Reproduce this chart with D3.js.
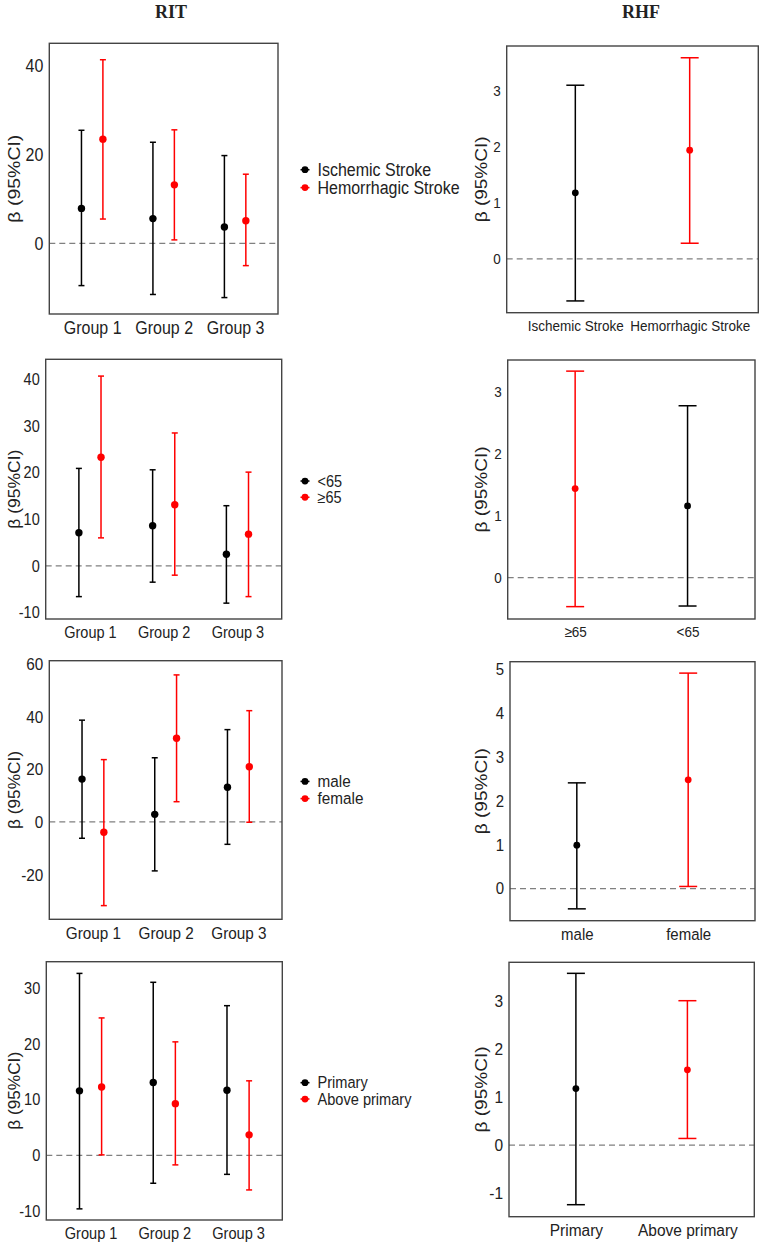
<!DOCTYPE html>
<html>
<head>
<meta charset="utf-8">
<script src="https://cdn.jsdelivr.net/npm/d3@7"></script>
<style>
  body { margin: 0; background: #fff; }
  text { font-family: "Liberation Sans", Arial, sans-serif; fill: #222; }
  /* the source image is a little taller than wide, so stretch flat text to match */
  text:not(.ytitle) { transform-box: fill-box; transform-origin: center; transform: scaleY(1.1); }
</style>
</head>
<body>
<svg id="chart" width="767" height="1246"></svg>
<script>
// every estimate row is [beta, lower 95% CI, upper 95% CI]
const groups = ['Group 1', 'Group 2', 'Group 3'];

// RIT, by stroke type
const ritStrokeLegend = ['Ischemic Stroke', 'Hemorrhagic Stroke'];
const ritStrokeIschemic = [[7.9, -9.5, 25.5], [5.6, -11.5, 22.8], [3.7, -12.2, 19.8]];
const ritStrokeHemorrhagic = [[23.5, 5.5, 41.4], [13.2, 0.8, 25.6], [5.1, -5.0, 15.6]];
const ritStrokeTicks = [0, 20, 40];
const ritStrokeRange = [-15.9, 45.1];

// RIT, by age
const ritAgeLegend = ['<65', '≥65'];
const ritAgeUnder65 = [[7.1, -6.6, 20.9], [8.6, -3.5, 20.6], [2.5, -8.0, 12.9]];
const ritAge65Plus = [[23.3, 6.0, 40.7], [13.1, -2.0, 28.5], [6.8, -6.6, 20.1]];
const ritAgeTicks = [-10, 0, 10, 20, 30, 40];
const ritAgeRange = [-11.4, 44.3];

// RIT, by sex
const ritSexLegend = ['male', 'female'];
const ritSexMale = [[16.3, -6.2, 38.7], [2.9, -18.6, 24.4], [13.2, -8.5, 35.1]];
const ritSexFemale = [[-3.9, -31.8, 23.7], [31.8, 7.7, 55.9], [21.0, -0.1, 42.3]];
const ritSexTicks = [-20, 0, 20, 40, 60];
const ritSexRange = [-37, 61.3];

// RIT, by education
const ritEduLegend = ['Primary', 'Above primary'];
const ritEduPrimary = [[11.6, -9.6, 32.7], [13.1, -5.0, 31.1], [11.7, -3.4, 26.9]];
const ritEduAbove = [[12.3, 0.1, 24.7], [9.3, -1.7, 20.4], [3.7, -6.2, 13.4]];
const ritEduTicks = [-10, 0, 10, 20, 30];
const ritEduRange = [-11.6, 34.8];

// RHF
const rhfStrokeLabels = ['Ischemic Stroke', 'Hemorrhagic Stroke'];
const rhfStroke = [[1.18, -0.75, 3.10], [1.94, 0.28, 3.59]];
const rhfStrokeTicks = [0, 1, 2, 3];
const rhfStrokeRange = [-0.96, 3.80];

const rhfAgeLabels = ['≥65', '<65'];
const rhfAge = [[1.44, -0.47, 3.34], [1.16, -0.46, 2.78]];
const rhfAgeTicks = [0, 1, 2, 3];
const rhfAgeRange = [-0.67, 3.52];

const rhfSexLabels = ['male', 'female'];
const rhfSex = [[0.99, -0.46, 2.41], [2.48, 0.05, 4.91]];
const rhfSexTicks = [0, 1, 2, 3, 4, 5];
const rhfSexRange = [-0.73, 5.17];

const rhfEduLabels = ['Primary', 'Above primary'];
const rhfEdu = [[1.18, -1.24, 3.58], [1.57, 0.14, 3.01]];
const rhfEduTicks = [-1, 0, 1, 2, 3];
const rhfEduRange = [-1.49, 3.81];

const BLACK = '#000';
const RED = '#ff0000';
const svg = d3.select('#chart');

svg.append('rect').attr('width', 767).attr('height', 1246).attr('fill', '#fff');

// column headings
svg.append('text').attr('x', 171).attr('y', 17).attr('text-anchor', 'middle')
  .style('font-family', '"Liberation Serif", "Times New Roman", serif')
  .style('font-weight', 'bold').style('font-size', '18px').text('RIT');
svg.append('text').attr('x', 641).attr('y', 17).attr('text-anchor', 'middle')
  .style('font-family', '"Liberation Serif", "Times New Roman", serif')
  .style('font-weight', 'bold').style('font-size', '18px').text('RHF');

function drawFrame(p, cats) {
  const g = svg.append('g');
  const x = d3.scalePoint().domain(cats).range([p.x0, p.x1]).padding(0.6);
  const y = d3.scaleLinear().domain(p.range).range([p.y1, p.y0]);

  // reference line at zero
  g.append('line')
    .attr('x1', p.x0).attr('x2', p.x1)
    .attr('y1', y(0)).attr('y2', y(0))
    .attr('stroke', '#808080').attr('stroke-width', 1.3)
    .attr('stroke-dasharray', '6,4');

  const ya = g.append('g')
    .attr('transform', `translate(${p.x0},0)`)
    .call(d3.axisLeft(y).tickValues(p.ticks).tickSize(0).tickPadding(6).tickFormat(d => String(d)));
  ya.select('.domain').remove();
  ya.selectAll('text').style('font-size', p.fs + 'px');

  const xa = g.append('g')
    .attr('transform', `translate(0,${p.y1})`)
    .call(d3.axisBottom(x).tickSize(0).tickPadding(8));
  xa.select('.domain').remove();
  xa.selectAll('text').style('font-size', p.fs + 'px');

  g.append('rect')
    .attr('x', p.x0).attr('y', p.y0)
    .attr('width', p.x1 - p.x0).attr('height', p.y1 - p.y0)
    .attr('fill', 'none').attr('stroke', '#444').attr('stroke-width', 1.4);

  g.append('text')
    .attr('class', 'ytitle')
    .attr('transform', `translate(${p.tx},${(p.y0 + p.y1) / 2}) rotate(-90)`)
    .attr('text-anchor', 'middle').attr('dy', '0.35em')
    .attr('textLength', p.tl).attr('lengthAdjust', 'spacingAndGlyphs')
    .style('font-size', p.tfs + 'px')
    .text('β (95%CI)');

  return { g, x, y };
}

function errorBar(g, cx, y, d, colour, capHalf, r) {
  g.append('line')
    .attr('x1', cx).attr('x2', cx).attr('y1', y(d[1])).attr('y2', y(d[2]))
    .attr('stroke', colour).attr('stroke-width', 1.5);
  [d[1], d[2]].forEach(v => {
    g.append('line')
      .attr('x1', cx - capHalf).attr('x2', cx + capHalf).attr('y1', y(v)).attr('y2', y(v))
      .attr('stroke', colour).attr('stroke-width', 1.5);
  });
  g.append('circle').attr('cx', cx).attr('cy', y(d[0])).attr('r', r).attr('fill', colour);
}

const ritPanels = [
  { x0: 49.3, x1: 278, y0: 43.3, y1: 314, fs: 16, tl: 88, series: [ritStrokeIschemic, ritStrokeHemorrhagic], legend: ritStrokeLegend, ticks: ritStrokeTicks, range: ritStrokeRange },
  { x0: 45.7, x1: 281.7, y0: 359.3, y1: 619, fs: 14.5, tl: 79, series: [ritAgeUnder65, ritAge65Plus], legend: ritAgeLegend, ticks: ritAgeTicks, range: ritAgeRange },
  { x0: 49.3, x1: 282, y0: 660.7, y1: 919.3, fs: 15.3, tl: 78, series: [ritSexMale, ritSexFemale], legend: ritSexLegend, ticks: ritSexTicks, range: ritSexRange },
  { x0: 46.3, x1: 282.3, y0: 961.7, y1: 1220, fs: 14.6, tl: 78, series: [ritEduPrimary, ritEduAbove], legend: ritEduLegend, ticks: ritEduTicks, range: ritEduRange }
];

ritPanels.forEach(p => {
  p.tx = 14;
  p.tfs = 17;
  const { g, x, y } = drawFrame(p, groups);
  const dodge = x.step() * 0.15;
  const colours = [BLACK, RED];
  p.series.forEach((s, si) => {
    s.forEach((d, i) => {
      const cx = x(groups[i]) + (si === 0 ? -dodge : dodge);
      errorBar(g, cx, y, d, colours[si], 3, 3.7);
    });
  });

  // legend, centred on the panel
  const mid = (p.y0 + p.y1) / 2;
  const gap = p.fs * 1.12;
  p.legend.forEach((label, i) => {
    const ly = mid + (i - 0.5) * gap;
    g.append('line').attr('x1', 300.5).attr('x2', 309.5).attr('y1', ly).attr('y2', ly)
      .attr('stroke', colours[i]).attr('stroke-width', 1.5);
    g.append('circle').attr('cx', 305).attr('cy', ly).attr('r', 3.4).attr('fill', colours[i]);
    g.append('text').attr('x', 317.5).attr('y', ly).attr('dy', '0.35em')
      .style('font-size', p.fs + 'px').text(label);
  });
});

const rhfPanels = [
  { x0: 506.7, x1: 758.3, y0: 46, y1: 312.7, fs: 13.5, cats: rhfStrokeLabels, values: rhfStroke, colours: [BLACK, RED], ticks: rhfStrokeTicks, range: rhfStrokeRange },
  { x0: 507.7, x1: 755, y0: 360, y1: 619, fs: 13.5, cats: rhfAgeLabels, values: rhfAge, colours: [RED, BLACK], ticks: rhfAgeTicks, range: rhfAgeRange },
  { x0: 510, x1: 755, y0: 661.7, y1: 920.7, fs: 15, cats: rhfSexLabels, values: rhfSex, colours: [BLACK, RED], ticks: rhfSexTicks, range: rhfSexRange },
  { x0: 509, x1: 754.3, y0: 962.3, y1: 1216.7, fs: 15.5, cats: rhfEduLabels, values: rhfEdu, colours: [BLACK, RED], ticks: rhfEduTicks, range: rhfEduRange }
];

rhfPanels.forEach(p => {
  p.tx = 481;
  p.tl = 86;
  p.tfs = 16;
  const { g, x, y } = drawFrame(p, p.cats);
  p.values.forEach((d, i) => {
    errorBar(g, x(p.cats[i]), y, d, p.colours[i], 9, 3.4);
  });
});
</script>
</body>
</html>
